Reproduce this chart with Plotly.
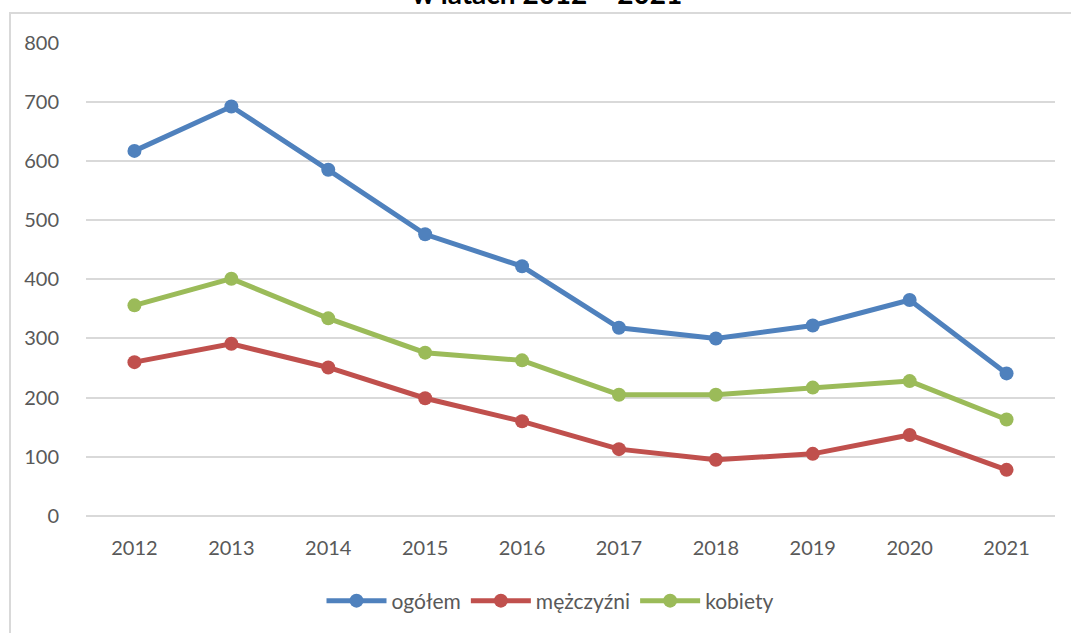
import plotly.graph_objects as go

years = ["2012", "2013", "2014", "2015", "2016", "2017", "2018", "2019", "2020", "2021"]
ogolem = [617, 692, 585, 476, 422, 318, 300, 322, 365, 241]
mezczyzni = [260, 291, 251, 199, 160, 113, 95, 105, 137, 78]
kobiety = [356, 401, 334, 276, 263, 205, 205, 217, 228, 163]

series = [
    ("ogółem", ogolem, "#4F81BD"),
    ("mężczyźni", mezczyzni, "#C0504D"),
    ("kobiety", kobiety, "#9BBB59"),
]

W, H = 1071, 633
L, R, T, B = 86, 16, 42, 117
ph = H - T - B
pw = W - L - R

fig = go.Figure()
for name, vals, col in series:
    fig.add_trace(go.Scatter(
        x=years, y=vals, name=name, mode="lines+markers",
        line=dict(color=col, width=5),
        marker=dict(color=col, size=14),
    ))

font = "Lato, 'Open Sans', sans-serif"
fig.update_layout(
    width=W, height=H,
    margin=dict(l=L, r=R, t=T, b=B, pad=0),
    paper_bgcolor="white", plot_bgcolor="white",
    showlegend=True,
    legend=dict(orientation="h", x=(550 - L) / pw, xanchor="center",
                y=(H - B - 601) / ph, yanchor="middle",
                font=dict(family=font, size=21, color="#595959"),
                itemwidth=60, tracegroupgap=0),
    xaxis=dict(type="category", range=[-0.5, 9.5], showgrid=False, showline=False,
               ticks="outside", ticklen=14, tickcolor="rgba(0,0,0,0)",
               tickfont=dict(family=font, size=20, color="#595959")),
    yaxis=dict(range=[0, 801], tickvals=[0, 100, 200, 300, 400, 500, 600, 700, 800],
               showgrid=True, gridcolor="#D9D9D9", gridwidth=2,
               zeroline=True, zerolinecolor="#D9D9D9", zerolinewidth=2,
               showline=False, ticks="outside", ticklen=22, tickcolor="rgba(0,0,0,0)",
               tickfont=dict(family=font, size=20, color="#595959")),
    shapes=[dict(type="rect", xref="paper", yref="paper",
                 x0=(10 - L) / pw, x1=(W + 20 - L) / pw,
                 y0=(H - B - (H + 20)) / ph, y1=(H - B - 13) / ph,
                 line=dict(color="#D9D9D9", width=2), fillcolor="rgba(0,0,0,0)",
                 layer="below")],
    annotations=[dict(text="<b>w latach 2012 – 2021</b>", xref="paper", yref="paper",
                      x=(547 - L) / pw, y=(H - B + 7) / ph, xanchor="center", yanchor="middle",
                      showarrow=False, font=dict(family=font, size=28, color="black"))],
)

fig.write_html("out.html", config={"displayModeBar": False},
               post_script="document.body.style.margin='0';document.body.style.padding='0';")
